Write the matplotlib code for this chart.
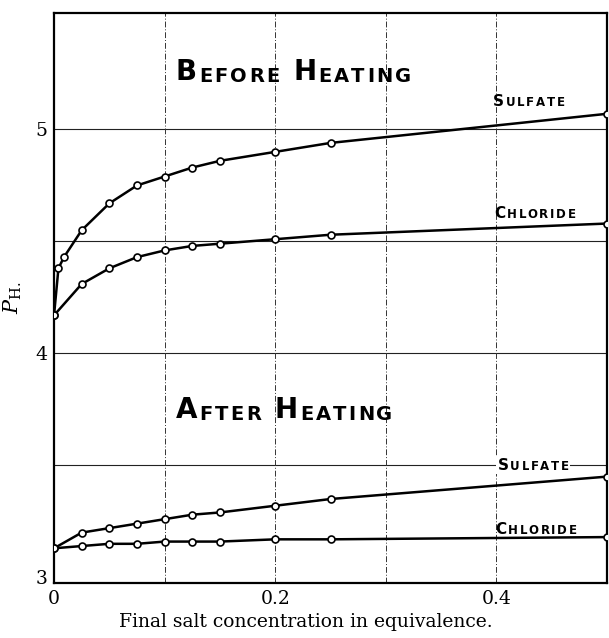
from matplotlib import pyplot as plt
import numpy as np

# salt concentration (equivalence)
conc_before = [0, 0.004, 0.009, 0.025, 0.05, 0.075, 0.1, 0.125, 0.15, 0.2, 0.25, 0.5]
sulfate_before = [4.17, 4.38, 4.43, 4.55, 4.67, 4.75, 4.79, 4.83, 4.86, 4.90, 4.94, 5.07]

conc = [0, 0.025, 0.05, 0.075, 0.1, 0.125, 0.15, 0.2, 0.25, 0.5]
chloride_before = [4.17, 4.31, 4.38, 4.43, 4.46, 4.48, 4.49, 4.51, 4.53, 4.58]
sulfate_after = [3.13, 3.20, 3.22, 3.24, 3.26, 3.28, 3.29, 3.32, 3.35, 3.45]
chloride_after = [3.13, 3.14, 3.15, 3.15, 3.16, 3.16, 3.16, 3.17, 3.17, 3.18]

xticks = [0, 0.2, 0.4]
xtick_labels = ['0', '0.2', '0.4']
yticks = [3, 4, 5]
xgrid = [0.1, 0.2, 0.3, 0.4]
ygrid = [3.5, 4, 4.5, 5]

LETTER = 'DejaVu Sans'
SERIF = 'DejaVu Serif'


def smallcaps(ax, x, y, words, big, small, track=1.5, bg=False):
    # hand lettered small caps: big first letter, rest smaller, spaced out
    bbox = dict(facecolor='white', edgecolor='none', pad=1) if bg else None
    t = None
    for i, w in enumerate(words):
        for j, ch in enumerate(w):
            size = big if j == 0 else small
            if t is None:
                t = ax.text(x, y, ch, fontsize=size, family=LETTER,
                            weight='bold', va='baseline', ha='left', bbox=bbox)
                continue
            gap = big * 0.5 if j == 0 else track
            t = ax.annotate(ch, xy=(1, 0), xycoords=t, xytext=(gap, 0),
                            textcoords='offset points', fontsize=size,
                            family=LETTER, weight='bold', va='bottom',
                            ha='left', bbox=bbox)


def main():
    plt.rcParams['mathtext.fontset'] = 'dejavuserif'
    fig = plt.figure(figsize=(6.09, 6.38), dpi=100)
    ax = fig.add_axes([0.0887, 0.0862, 0.908, 0.8934])

    for g in ygrid:
        ax.axhline(g, color='#222222', lw=0.8, zorder=1)
    for g in xgrid:
        ax.axvline(g, color='#333333', lw=0.7, ls=(0, (6, 2, 1, 2)), zorder=1)

    mk = dict(marker='o', ms=5, mfc='white', mec='black', mew=1.2,
              color='black', lw=1.8, zorder=3, clip_on=True)
    ax.plot(conc_before, sulfate_before, **mk)
    ax.plot(conc, chloride_before, **mk)
    ax.plot(conc, sulfate_after, **mk)
    ax.plot(conc, chloride_after, **mk)

    ax.set_xlim(0, 0.5)
    ax.set_ylim(2.975, 5.52)
    ax.set_xticks(xticks)
    ax.set_xticklabels(xtick_labels)
    ax.set_yticks(yticks)
    ax.tick_params(length=0, labelsize=13.5, pad=5)
    for lab in ax.get_xticklabels() + ax.get_yticklabels():
        lab.set_family(SERIF)
    for s in ax.spines.values():
        s.set_linewidth(1.6)

    smallcaps(ax, 0.110, 5.22, ['BEFORE', 'HEATING'], 20, 14, track=1.6)
    smallcaps(ax, 0.110, 3.71, ['AFTER', 'HEATING'], 20, 14, track=1.6)
    smallcaps(ax, 0.397, 5.105, ['SULFATE'], 11, 8.5, track=1.2)
    smallcaps(ax, 0.398, 4.605, ['CHLORIDE'], 11, 8.5, track=1.2)
    smallcaps(ax, 0.401, 3.48, ['SULFATE'], 11, 8.5, track=1.2, bg=True)
    smallcaps(ax, 0.399, 3.195, ['CHLORIDE'], 11, 8.5, track=1.2)

    ax.set_xlabel('Final salt concentration in equivalence.', family=SERIF,
                  fontsize=13.5)
    ax.xaxis.set_label_coords(0.456, -0.052)
    ax.text(-0.074, 4.25, r'$P_{\rm H.}$', transform=ax.get_yaxis_transform(),
            rotation=90, fontsize=15, ha='center', va='center')

    fig.savefig('out.png', dpi=100)


if(__name__ == "__main__"):
    main()
